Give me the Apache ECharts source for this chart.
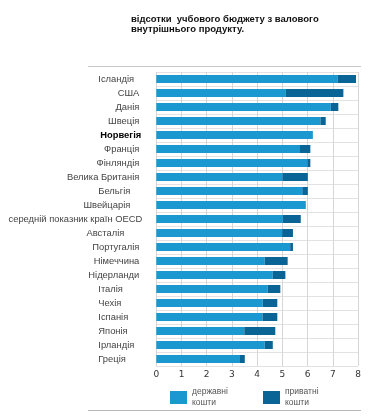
<!DOCTYPE html>
<html><head><meta charset="utf-8">
<script src="https://cdn.jsdelivr.net/npm/echarts@6/dist/echarts.min.js"></script>
<style>html,body{margin:0;padding:0;background:#fff}#c{width:380px;height:419px}</style>
</head><body><div id="c"></div>
<script>
const titleText = "відсотки  учбового бюджету з валового\nвнутрішнього продукту.";
const categories = ["Ісландія","США","Данія","Швеція","Норвегія","Франція","Фінляндія","Велика Британія","Бельгія","Швейцарія","середній показник країн OECD","Австалія","Португалія","Німеччина","Нідерланди","Італія","Чехія","Іспанія","Японія","Ірландія","Греція"];
const publicFunds  = [7.20,5.12,6.92,6.51,6.21,5.70,5.99,5.00,5.79,5.93,5.02,4.99,5.31,4.30,4.62,4.42,4.22,4.21,3.49,4.30,3.32];
const privateFunds = [0.72,2.30,0.30,0.21,0.00,0.41,0.12,1.01,0.22,0.00,0.71,0.43,0.11,0.91,0.50,0.50,0.58,0.59,1.23,0.32,0.19];
const xTicks = [0,1,2,3,4,5,6,7,8];
const seriesNames = ["державні кошти","приватні кошти"];

const leftGroup = ["Ісландія","Бельгія","Італія","Чехія","Іспанія","Японія","Ірландія","Греція"];
const chart = echarts.init(document.getElementById('c'), null, {renderer:'canvas'});
const FONT = "'Liberation Sans', Arial, sans-serif";
const FS = 9.4;
chart.setOption({
  animation:false,
  title:{text:titleText,left:126,top:9,textStyle:{fontFamily:FONT,fontSize:9.5,fontWeight:'bold',color:'#111',lineHeight:10.5}},
  grid:{left:156.3,right:22,top:72,bottom:53,containLabel:false,outerBoundsMode:'none'},
  xAxis:{type:'value',min:0,max:8,interval:1,
    axisLine:{show:false},axisTick:{show:false},
    axisLabel:{margin:4,color:'#333',fontFamily:"'DejaVu Sans', sans-serif",fontSize:9,formatter:v=>xTicks.includes(v)?String(v):''},
    splitLine:{show:true,lineStyle:{color:'#d6d6d6',width:1}}},
  yAxis:{type:'category',data:categories,inverse:true,
    axisLine:{show:false},axisTick:{show:false},
    splitLine:{show:true,lineStyle:{color:'#e2e2e2',width:1}},
    axisLabel:{margin:14,color:'#444',fontFamily:FONT,fontSize:FS,
      formatter:function(v){
        if(v==="Норвегія") return '{b|'+v+'}';
        if(v==="середній показник країн OECD") return v;
        if(leftGroup.includes(v)) return '{l|'+v+'}';
        if(v==="Швейцарія") return '{s|'+v+'}';
        if(v==="Австалія") return '{a|'+v+'}';
        return '{r|'+v+'}';
      },
      rich:{
        b:{fontWeight:'bold',color:'#000',fontFamily:FONT,fontSize:FS,padding:[0,1,0,0]},
        r:{color:'#444',fontFamily:FONT,fontSize:FS,padding:[0,3,0,0]},
        l:{width:44,align:'left',color:'#444',fontFamily:FONT,fontSize:FS},
        s:{padding:[0,12,0,0],color:'#444',fontFamily:FONT,fontSize:FS},
        a:{padding:[0,18,0,0],color:'#444',fontFamily:FONT,fontSize:FS}
      }}},
  legend:[
    {data:[seriesNames[0]],left:170,top:383.5,padding:0,itemWidth:17,itemHeight:13,itemGap:0,icon:'rect',
     formatter:n=>n.replace(' ','\n'),textStyle:{fontFamily:FONT,fontSize:8.5,color:'#555',lineHeight:11,padding:[6,0,0,0]}},
    {data:[seriesNames[1]],left:263,top:383.5,padding:0,itemWidth:17,itemHeight:13,itemGap:0,icon:'rect',
     formatter:n=>n.replace(' ','\n'),textStyle:{fontFamily:FONT,fontSize:8.5,color:'#555',lineHeight:11,padding:[6,0,0,0]}}
  ],
  series:[
    {name:seriesNames[0],type:'bar',stack:'t',data:publicFunds,barWidth:8,itemStyle:{color:'#1b98cf'}},
    {name:seriesNames[1],type:'bar',stack:'t',data:privateFunds,barWidth:8,itemStyle:{color:'#0b6496'}}
  ],
  graphic:[
    {type:'line',shape:{x1:88,y1:66.5,x2:361,y2:66.5},style:{stroke:'#c8c8c8',lineWidth:1}},
    {type:'line',shape:{x1:88,y1:410.5,x2:361,y2:410.5},style:{stroke:'#b8b8b8',lineWidth:1}}
  ]
});
</script></body></html>
